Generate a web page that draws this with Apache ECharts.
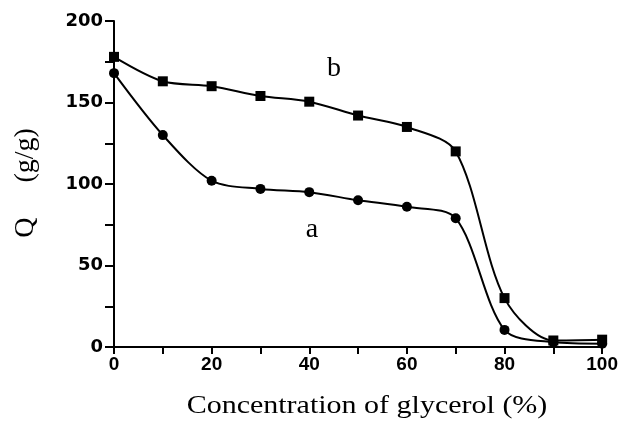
<!DOCTYPE html>
<html><head><meta charset="utf-8">
<script src="https://cdn.jsdelivr.net/npm/echarts@6/dist/echarts.min.js"></script>
<style>html,body{margin:0;padding:0;background:#fff}#c{width:621px;height:427px}</style>
</head><body><div id="c"></div>
<script>
var glycerol = [0, 10, 20, 30, 40, 50, 60, 70, 80, 90, 100];
var seriesA = [168, 130, 102, 97, 95, 90, 86, 79, 10.5, 3, 2];
var seriesB = [178, 163, 160, 154, 150.5, 142, 135, 120, 30, 4, 4.5];
var yTicks = [0, 50, 100, 150, 200];
var xTicks = [0, 20, 40, 60, 80, 100];

function pairs(xs, ys){ return xs.map(function(x,i){ return [x, ys[i]]; }); }

var chart = echarts.init(document.getElementById('c'), null, {renderer:'canvas'});
var lineStyle = {color:'#000', width:2};
chart.setOption({
  animation:false,
  backgroundColor:'#fff',
  grid:{left:114, right:18, top:21, bottom:80},
  xAxis:{type:'value', min:0, max:100, interval:10,
    axisLine:{show:true, onZero:false, lineStyle:lineStyle},
    axisTick:{show:true, length:7, lineStyle:lineStyle},
    splitLine:{show:false},
    axisLabel:{margin:8, fontFamily:'Liberation Sans', fontWeight:'bold', fontSize:19, color:'#000',
      formatter:function(v){return xTicks.indexOf(v)>=0? String(v):'';}}
  },
  yAxis:{type:'value', min:0, max:200, interval:25,
    axisLine:{show:true, onZero:false, lineStyle:lineStyle},
    axisTick:{show:true, length:9, lineStyle:lineStyle},
    splitLine:{show:false},
    axisLabel:{margin:11, fontFamily:'DejaVu Sans', fontWeight:'bold', fontSize:18, color:'#000',
      formatter:function(v){return yTicks.indexOf(v)>=0? String(v):'';}}
  },
  series:[
    {name:'a', type:'line', data:pairs(glycerol, seriesA), smooth:0.3,
     symbol:'circle', symbolSize:10, itemStyle:{color:'#000'}, lineStyle:lineStyle},
    {name:'b', type:'line', data:pairs(glycerol, seriesB), smooth:0.3,
     symbol:'rect', symbolSize:10, itemStyle:{color:'#000'}, lineStyle:lineStyle}
  ],
  graphic:[
    {type:'text', x:367, y:406, scaleX:1.2, style:{text:'Concentration of glycerol (%)', fontFamily:'Liberation Serif', fontSize:25, fill:'#000', align:'center', verticalAlign:'middle'}},
    {type:'text', x:26, y:183, rotation:Math.PI/2, style:{text:'Q     (g/g)', fontFamily:'Liberation Serif', fontSize:28, fill:'#000', align:'center', verticalAlign:'middle'}},
    {type:'text', x:334, y:69, style:{text:'b', fontFamily:'Liberation Serif', fontSize:28, fill:'#000', align:'center', verticalAlign:'middle'}},
    {type:'text', x:312, y:230, style:{text:'a', fontFamily:'Liberation Serif', fontSize:28, fill:'#000', align:'center', verticalAlign:'middle'}}
  ]
});
</script></body></html>
